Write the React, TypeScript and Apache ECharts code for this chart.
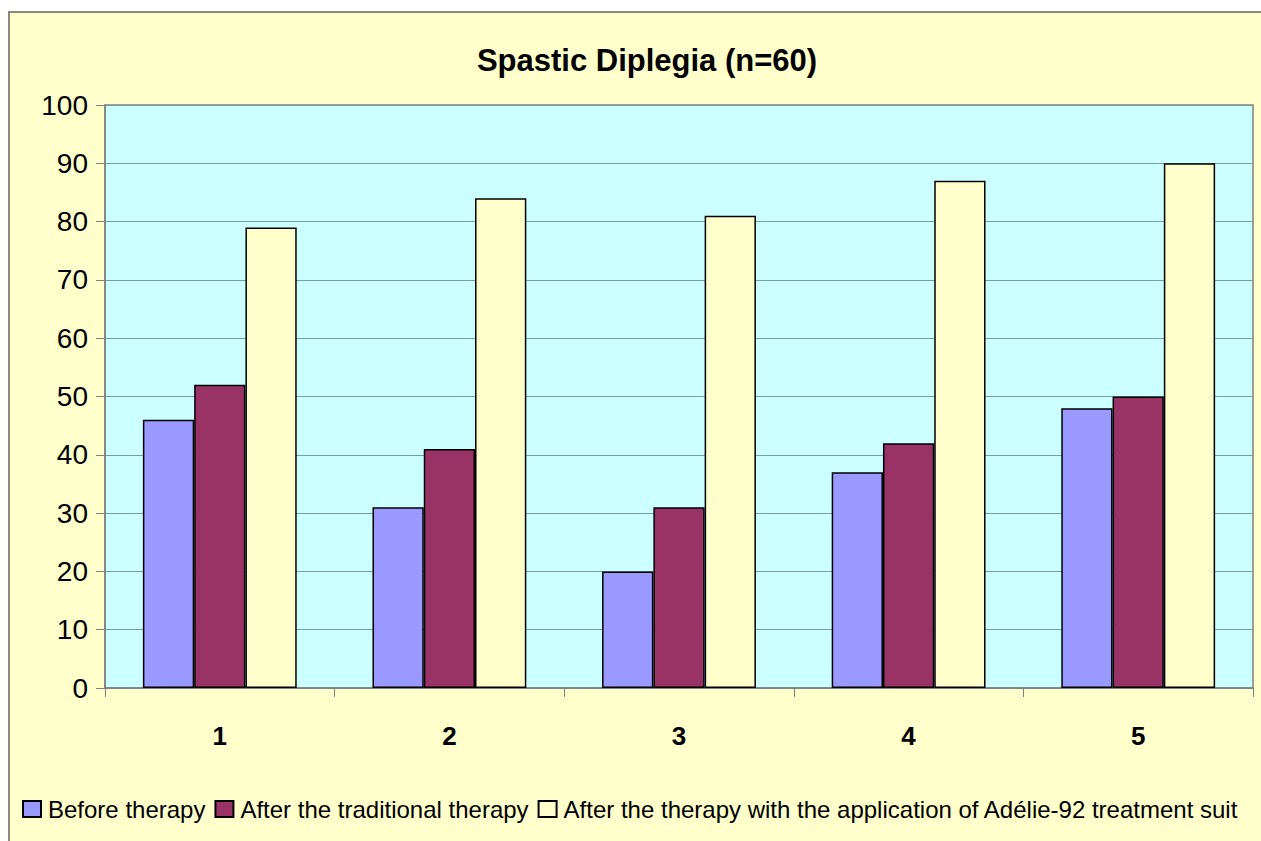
import React, { useEffect, useRef } from "react";
import * as echarts from "echarts";

const categories = ["1", "2", "3", "4", "5"];
const beforeTherapy = [46, 31, 20, 37, 48];
const afterTraditional = [52, 41, 31, 42, 50];
const afterAdelie = [79, 84, 81, 87, 90];
const seriesNames = [
  "Before therapy",
  "After the traditional therapy",
  "After the therapy with the application of Adélie-92 treatment suit",
];
const titleText = "Spastic Diplegia (n=60)";

const FONT = "'Liberation Sans', Arial, sans-serif";

export default function App() {
  const ref = useRef<HTMLDivElement>(null);

  useEffect(() => {
    if (!ref.current) return;
    const chart = echarts.init(ref.current, undefined, { renderer: "svg" });
    const bar = (name: string, data: number[], color: string) => ({
      name,
      type: "bar",
      data,
      barGap: "0%",
      barCategoryGap: "33%",
      itemStyle: { color, borderColor: "#000", borderWidth: 1.5 },
    });
    chart.setOption({
      animation: false,
      backgroundColor: "transparent",
      title: {
        text: titleText,
        left: 642,
        top: 40,
        textAlign: "center",
        textStyle: { fontFamily: FONT, fontSize: 31, fontWeight: "bold", color: "#000" },
      },
      grid: {
        left: 105,
        top: 105,
        right: 1400 - 1253,
        bottom: 841 - 688,
        show: true,
        backgroundColor: "#CCFFFF",
        borderColor: "#808080",
        borderWidth: 1.5,
      },
      legend: {
        left: 22,
        top: 797,
        padding: 0,
        itemWidth: 18,
        itemHeight: 16,
        itemGap: 9,
        icon: "rect",
        textStyle: { fontFamily: FONT, fontSize: 24, color: "#000", padding: [0, 0, 0, 2] },
        data: seriesNames,
      },
      xAxis: {
        type: "category",
        data: categories,
        axisLine: { show: true, lineStyle: { color: "#808080", width: 1.5 } },
        axisTick: { show: true, length: 9, lineStyle: { color: "#808080" } },
        axisLabel: {
          margin: 35,
          fontFamily: FONT,
          fontSize: 26,
          fontWeight: "bold",
          color: "#000",
        },
      },
      yAxis: {
        type: "value",
        min: 0,
        max: 100,
        interval: 10,
        axisLine: { show: true, lineStyle: { color: "#808080", width: 1.5 } },
        axisTick: { show: true, length: 9, lineStyle: { color: "#808080" } },
        axisLabel: { margin: 17, fontFamily: FONT, fontSize: 28, color: "#000" },
        splitLine: { show: true, lineStyle: { color: "#7A9C9C", width: 1 } },
      },
      series: [
        bar(seriesNames[0], beforeTherapy, "#9999FF"),
        bar(seriesNames[1], afterTraditional, "#993366"),
        bar(seriesNames[2], afterAdelie, "#FFFFCC"),
      ],
    });
    return () => chart.dispose();
  }, []);

  return (
    <div
      style={{
        position: "absolute",
        left: 0,
        top: 0,
        width: 1261,
        height: 841,
        overflow: "hidden",
        background: "#fff",
      }}
    >
      <div
        style={{
          position: "absolute",
          left: 8,
          top: 11,
          width: 1400,
          height: 900,
          background: "#FFFFCC",
          border: "2px solid #8a8a80",
        }}
      />
      <div ref={ref} style={{ position: "absolute", left: 0, top: 0, width: 1400, height: 841 }} />
    </div>
  );
}
